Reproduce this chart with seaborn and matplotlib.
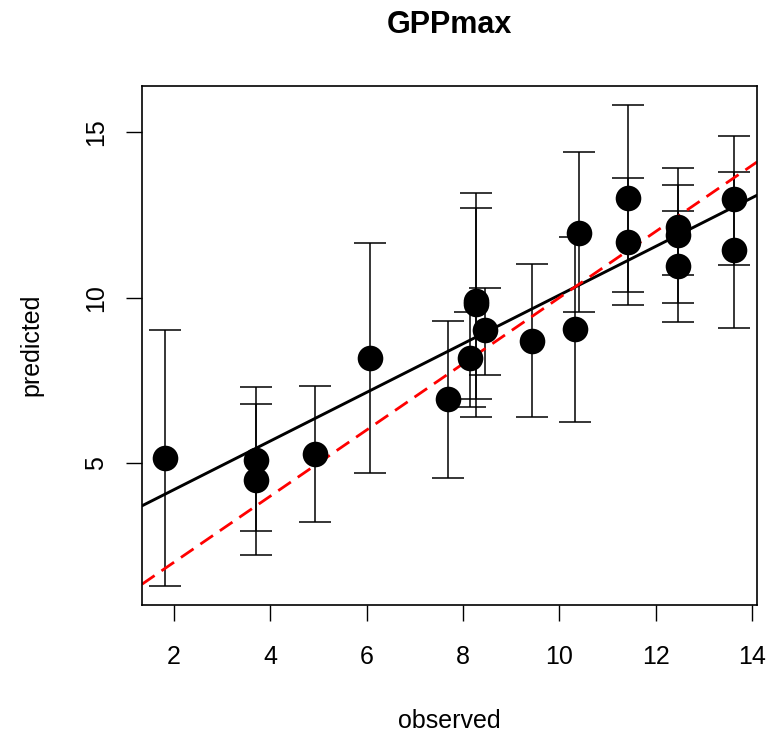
import numpy as np
import pandas as pd
import matplotlib
matplotlib.use("Agg")
import matplotlib.pyplot as plt
import seaborn as sns

# values
observed = [1.81, 3.70, 3.70, 4.92, 6.06, 7.68, 8.26, 8.26, 8.15, 8.46,
            9.43, 10.41, 10.32, 11.43, 11.43, 12.46, 12.46, 12.46, 13.63, 13.63]
predicted = [5.16, 5.09, 4.48, 5.28, 8.18, 6.95, 9.90, 9.82, 8.17, 9.02,
             8.70, 11.97, 9.05, 13.00, 11.68, 12.15, 11.90, 10.97, 12.97, 11.45]
lower = [1.29, 2.94, 2.22, 3.23, 4.70, 4.56, 6.39, 6.93, 6.70, 7.65,
         6.39, 9.58, 6.24, 10.18, 9.78, 10.70, 9.85, 9.26, 11.00, 9.07]
upper = [9.02, 7.29, 6.78, 7.34, 11.64, 9.28, 13.15, 12.70, 9.56, 10.30,
         11.02, 14.39, 11.84, 15.82, 13.61, 13.40, 13.92, 12.61, 14.90, 13.81]
x_ticks = [2, 4, 6, 8, 10, 12, 14]
y_ticks = [5, 10, 15]

df = pd.DataFrame({"observed": observed, "predicted": predicted,
                   "lower": lower, "upper": upper})

sns.set_style("ticks")
plt.rcParams["font.family"] = ["Liberation Sans", "DejaVu Sans"]
plt.rcParams["text.color"] = "black"
plt.rcParams["xtick.color"] = "black"
plt.rcParams["ytick.color"] = "black"

fig = plt.figure(figsize=(7.73, 7.36), dpi=100)
ax = fig.add_axes([0.1837, 0.178, 0.7956, 0.7052])

# R style axis limits (4% padding)
xmin, xmax = df["observed"].min(), df["observed"].max()
ymin, ymax = df["lower"].min(), df["upper"].max()
xpad = 0.04 * (xmax - xmin)
ypad = 0.04 * (ymax - ymin)
ax.set_xlim(xmin - xpad, xmax + xpad)
ax.set_ylim(ymin - ypad, ymax + ypad)

# error bars
ax.errorbar(df["observed"], df["predicted"],
            yerr=[df["predicted"] - df["lower"], df["upper"] - df["predicted"]],
            fmt="none", ecolor="black", elinewidth=1.1, capsize=11.5, capthick=1.1,
            zorder=2)

sns.scatterplot(data=df, x="observed", y="predicted", color="black", s=340,
                edgecolor="black", linewidth=0, ax=ax, zorder=3)

# fitted line and 1:1 line
sns.regplot(data=df, x="observed", y="predicted", scatter=False, ci=None,
            truncate=False, color="black", line_kws={"lw": 2.1}, ax=ax)
ax.axline((0, 0), slope=1, color="red", lw=2.0, ls=(0, (5.5, 3)), zorder=2.5)

ax.set_xlim(xmin - xpad, xmax + xpad)
ax.set_ylim(ymin - ypad, ymax + ypad)
ax.set_xticks(x_ticks)
ax.set_yticks(y_ticks)
ax.tick_params(axis="both", length=11.5, width=1.0, color="black",
               labelcolor="black", labelsize=18, direction="out")
ax.tick_params(axis="x", pad=17)
ax.tick_params(axis="y", pad=13, labelrotation=90)
for lab in ax.get_yticklabels():
    lab.set_va("center")

for sp in ax.spines.values():
    sp.set_visible(True)
    sp.set_color("black")
    sp.set_linewidth(1.2)

ax.set_xlabel("")
ax.set_ylabel("")
fig.text(449.5 / 773, 1 - 728 / 736, "observed", ha="center", va="baseline",
         fontsize=18, color="black")
fig.text(43 / 773, 1 - 345 / 736, "predicted", ha="right", va="center",
         rotation=90, fontsize=18, color="black")
fig.text(449.5 / 773, 1 - 33 / 736, "GPPmax", ha="center", va="baseline",
         fontsize=22, fontweight="bold", color="black")

fig.savefig("out.png", dpi=100, facecolor="white")
